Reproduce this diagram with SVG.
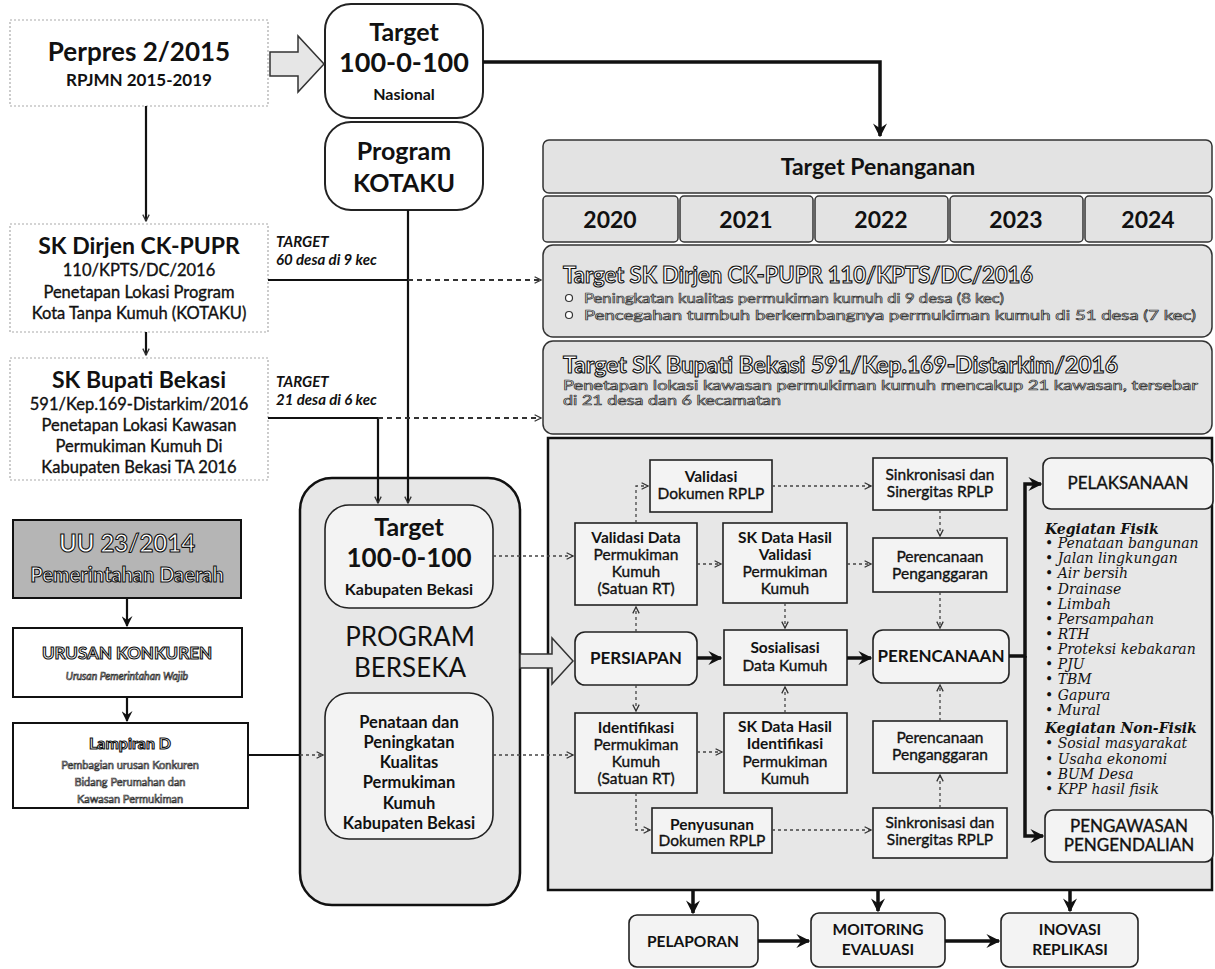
<svg xmlns="http://www.w3.org/2000/svg" width="1215" height="969" viewBox="0 0 1215 969">
<defs>
<style>
text{font-family:Lato,"Open Sans","Liberation Sans",sans-serif;fill:#111;text-anchor:middle}
.b{font-weight:700}
.n{font-weight:400;stroke:#111;stroke-width:0.35px}
.l{text-anchor:start}
.bi{font-weight:700;font-style:italic;font-size:15px;text-anchor:start}
.ol{fill:#fff;stroke:#111;stroke-width:1.1px}
.ols{fill:#fff;stroke:#333;stroke-width:0.7px}
.ser{font-family:"DejaVu Serif","Liberation Serif",serif;font-style:italic;font-size:14px;text-anchor:start}
.doc{fill:#fff;stroke:#aaa;stroke-width:1.2;stroke-dasharray:2 2}
.rb{fill:#fff;stroke:#222;stroke-width:2}
.gb{fill:#e3e3e3;stroke:#333;stroke-width:1.5}
.ib{fill:#f3f3f3;stroke:#222;stroke-width:1.6}
.big{fill:#e7e7e7;stroke:#111;stroke-width:2.5}
.thick{fill:none;stroke:#111;stroke-width:3.5}
.med{fill:none;stroke:#111;stroke-width:2.2}
.dot{fill:none;stroke:#444;stroke-width:1.3;stroke-dasharray:3 3}
.dash{fill:none;stroke:#333;stroke-width:2;stroke-dasharray:5 4}
.hol{fill:#e6e6e6;stroke:#333;stroke-width:1.5}
</style>
<marker id="ah" viewBox="0 0 10 10" refX="9" refY="5" markerWidth="14" markerHeight="14" markerUnits="userSpaceOnUse" orient="auto"><path d="M0,0 L10,5 L0,10 L3.5,5 z" fill="#111"/></marker>
<marker id="am" viewBox="0 0 10 10" refX="9" refY="5" markerWidth="11" markerHeight="11" markerUnits="userSpaceOnUse" orient="auto"><path d="M0,0 L10,5 L0,10 L3.5,5 z" fill="#111"/></marker>
<marker id="ds" viewBox="0 0 10 10" refX="9" refY="5" markerWidth="8" markerHeight="8" markerUnits="userSpaceOnUse" orient="auto"><path d="M1,1 L9,5 L1,9" fill="none" stroke="#333" stroke-width="1.6"/></marker>
</defs>
<rect x="0" y="0" width="1215" height="969" fill="#fff"/>

<g id="perpres">
<rect class="doc" x="10" y="20" width="258" height="86"/>
<text class="b" x="139" y="61" font-size="26">Perpres 2/2015</text>
<text class="b" x="139" y="86" font-size="17">RPJMN 2015-2019</text>
</g>
<g id="target-nasional">
<rect class="rb" x="325" y="4" width="158" height="114" rx="26"/>
<text class="b" x="404" y="41" font-size="25">Target</text>
<text class="b" x="404" y="72" font-size="27">100-0-100</text>
<text class="b" x="404" y="100" font-size="16">Nasional</text>
</g>
<g id="program-kotaku">
<rect class="rb" x="325" y="122" width="158" height="88" rx="26"/>
<text class="b" x="404" y="160" font-size="25">Program</text>
<text class="b" x="404" y="192" font-size="25">KOTAKU</text>
</g>
<g id="sk-dirjen">
<rect class="doc" x="10" y="224" width="258" height="108"/>
<text class="b" x="139" y="254" font-size="23">SK Dirjen CK-PUPR</text>
<text class="n" x="139" y="276" font-size="16.5">110/KPTS/DC/2016</text>
<text class="n" x="139" y="298" font-size="16.5">Penetapan Lokasi Program</text>
<text class="n" x="139" y="319" font-size="16.5">Kota Tanpa Kumuh (KOTAKU)</text>
</g>
<g id="sk-bupati">
<rect class="doc" x="10" y="358" width="258" height="122"/>
<text class="b" x="139" y="388" font-size="23">SK Bupati Bekasi</text>
<text class="n" x="139" y="410" font-size="16.5">591/Kep.169-Distarkim/2016</text>
<text class="n" x="139" y="431" font-size="16.5">Penetapan Lokasi Kawasan</text>
<text class="n" x="139" y="452" font-size="16.5">Permukiman Kumuh Di</text>
<text class="n" x="139" y="473" font-size="16.5">Kabupaten Bekasi TA 2016</text>
</g>
<g id="label-target-dirjen">
<text class="bi" x="276" y="247">TARGET</text>
<text class="bi" x="276" y="265">60 desa di 9 kec</text>
</g>
<g id="label-target-bupati">
<text class="bi" x="276" y="387">TARGET</text>
<text class="bi" x="276" y="405">21 desa di 6 kec</text>
</g>

<g id="target-penanganan">
<rect class="gb" x="543" y="140" width="669" height="53" rx="6"/>
<text class="b" x="878" y="175" font-size="23">Target Penanganan</text>
</g>
<g id="years">
<rect class="gb" x="543" y="196" width="135" height="46" rx="4"/>
<rect class="gb" x="680" y="196" width="133" height="46" rx="4"/>
<rect class="gb" x="815" y="196" width="133" height="46" rx="4"/>
<rect class="gb" x="950" y="196" width="133" height="46" rx="4"/>
<rect class="gb" x="1085" y="196" width="127" height="46" rx="4"/>
<text class="b" x="610" y="228" font-size="23">2020</text>
<text class="b" x="746" y="228" font-size="23">2021</text>
<text class="b" x="881" y="228" font-size="23">2022</text>
<text class="b" x="1016" y="228" font-size="23">2023</text>
<text class="b" x="1148" y="228" font-size="23">2024</text>
</g>
<g id="target-sk-dirjen">
<rect class="gb" x="543" y="245" width="669" height="92" rx="10"/>
<text class="b l ol" x="563" y="283" font-size="22" textLength="470" lengthAdjust="spacingAndGlyphs">Target SK Dirjen CK-PUPR 110/KPTS/DC/2016</text>
<circle cx="569" cy="298" r="3.5" fill="#fff" stroke="#333" stroke-width="1.2"/>
<circle cx="569" cy="315" r="3.5" fill="#fff" stroke="#333" stroke-width="1.2"/>
<text class="l ols" x="584" y="303" font-size="13.5" textLength="420" lengthAdjust="spacingAndGlyphs">Peningkatan kualitas permukiman kumuh di 9 desa (8 kec)</text>
<text class="l ols" x="584" y="320" font-size="13.5" textLength="612" lengthAdjust="spacingAndGlyphs">Pencegahan tumbuh berkembangnya permukiman kumuh di 51 desa (7 kec)</text>
</g>
<g id="target-sk-bupati">
<rect class="gb" x="543" y="341" width="669" height="93" rx="10"/>
<text class="b l ol" x="563" y="373" font-size="22" textLength="555" lengthAdjust="spacingAndGlyphs">Target SK Bupati Bekasi 591/Kep.169-Distarkim/2016</text>
<text class="l ols" x="563" y="390" font-size="13.5" textLength="635" lengthAdjust="spacingAndGlyphs">Penetapan lokasi kawasan permukiman kumuh mencakup 21 kawasan, tersebar</text>
<text class="l ols" x="563" y="405" font-size="13.5" textLength="218" lengthAdjust="spacingAndGlyphs">di 21 desa dan 6 kecamatan</text>
</g>

<g id="uu">
<rect x="13" y="520" width="228" height="78" fill="#b5b5b5" stroke="#111" stroke-width="2"/>
<text class="b ol" x="127" y="552" font-size="24">UU 23/2014</text>
<text class="b ol" x="127" y="582" font-size="20">Pemerintahan Daerah</text>
</g>
<g id="urusan-konkuren">
<rect x="13" y="628" width="229" height="69" fill="#fff" stroke="#111" stroke-width="2"/>
<text class="b ol" x="127" y="659" font-size="17">URUSAN KONKUREN</text>
<text class="ols" x="127" y="680" font-size="10.5" font-style="italic">Urusan Pemerintahan Wajib</text>
</g>
<g id="lampiran-d">
<rect x="13" y="723" width="235" height="85" fill="#fff" stroke="#111" stroke-width="2"/>
<text class="b ol" x="130" y="749" font-size="16">Lampiran D</text>
<text class="ols" x="130" y="769" font-size="11">Pembagian urusan Konkuren</text>
<text class="ols" x="130" y="786" font-size="11">Bidang Perumahan dan</text>
<text class="ols" x="130" y="803" font-size="11">Kawasan Permukiman</text>
</g>

<g id="program-berseka">
<rect class="big" x="300" y="478" width="220" height="427" rx="32"/>
<text x="410" y="646" font-size="26">PROGRAM</text>
<text x="410" y="677" font-size="26">BERSEKA</text>
</g>
<g id="target-kabupaten">
<rect class="ib" x="325" y="505" width="168" height="103" rx="24"/>
<text class="b" x="409" y="536" font-size="25">Target</text>
<text class="b" x="409" y="567" font-size="26">100-0-100</text>
<text class="b" x="409" y="595" font-size="16">Kabupaten Bekasi</text>
</g>
<g id="penataan">
<rect class="ib" x="325" y="693" width="168" height="146" rx="24"/>
<text class="b" x="409" y="728" font-size="16.5">Penataan dan</text>
<text class="b" x="409" y="748" font-size="16.5">Peningkatan</text>
<text class="b" x="409" y="768" font-size="16.5">Kualitas</text>
<text class="b" x="409" y="788" font-size="16.5">Permukiman</text>
<text class="b" x="409" y="809" font-size="16.5">Kumuh</text>
<text class="b" x="409" y="829" font-size="16.5">Kabupaten Bekasi</text>
</g>

<g id="proses">
<rect class="big" x="548" y="438" width="664" height="452"/>
</g>
<g id="validasi-dokumen">
<rect class="ib" x="650" y="460" width="122" height="52"/>
<text class="b" x="711" y="482" font-size="15.5">Validasi</text>
<text class="n" x="711" y="499" font-size="15.5">Dokumen RPLP</text>
</g>
<g id="validasi-data">
<rect class="ib" x="575" y="523" width="122" height="82"/>
<text class="b" x="636" y="543" font-size="15.5">Validasi Data</text>
<text class="n" x="636" y="560" font-size="15.5">Permukiman</text>
<text class="n" x="636" y="577" font-size="15.5">Kumuh</text>
<text class="n" x="636" y="594" font-size="15.5">(Satuan RT)</text>
</g>
<g id="sk-validasi">
<rect class="ib" x="723" y="523" width="124" height="80"/>
<text class="b" x="785" y="543" font-size="15.5">SK Data Hasil</text>
<text class="b" x="785" y="560" font-size="15.5">Validasi</text>
<text class="n" x="785" y="577" font-size="15.5">Permukiman</text>
<text class="n" x="785" y="594" font-size="15.5">Kumuh</text>
</g>
<g id="persiapan">
<rect class="ib" x="575" y="632" width="122" height="53" rx="10"/>
<text class="b" x="636" y="664" font-size="17">PERSIAPAN</text>
</g>
<g id="sosialisasi">
<rect class="ib" x="724" y="630" width="123" height="55"/>
<text class="b" x="785" y="653" font-size="15.5">Sosialisasi</text>
<text class="n" x="785" y="671" font-size="15.5">Data Kumuh</text>
</g>
<g id="identifikasi">
<rect class="ib" x="575" y="713" width="122" height="80"/>
<text class="b" x="636" y="733" font-size="15.5">Identifikasi</text>
<text class="n" x="636" y="750" font-size="15.5">Permukiman</text>
<text class="n" x="636" y="767" font-size="15.5">Kumuh</text>
<text class="n" x="636" y="784" font-size="15.5">(Satuan RT)</text>
</g>
<g id="sk-identifikasi">
<rect class="ib" x="724" y="713" width="123" height="80"/>
<text class="b" x="785" y="732" font-size="15.5">SK Data Hasil</text>
<text class="b" x="785" y="749" font-size="15.5">Identifikasi</text>
<text class="n" x="785" y="767" font-size="15.5">Permukiman</text>
<text class="n" x="785" y="784" font-size="15.5">Kumuh</text>
</g>
<g id="penyusunan">
<rect class="ib" x="652" y="808" width="120" height="45"/>
<text class="b" x="712" y="830" font-size="15.5">Penyusunan</text>
<text class="n" x="712" y="846" font-size="15.5">Dokumen RPLP</text>
</g>
<g id="sinkronisasi-1">
<rect class="ib" x="873" y="458" width="134" height="52"/>
<text class="n" x="940" y="480" font-size="15.5">Sinkronisasi dan</text>
<text class="n" x="940" y="497" font-size="15.5">Sinergitas RPLP</text>
</g>
<g id="penganggaran-1">
<rect class="ib" x="873" y="538" width="134" height="54"/>
<text class="n" x="940" y="562" font-size="15.5">Perencanaan</text>
<text class="n" x="940" y="579" font-size="15.5">Penganggaran</text>
</g>
<g id="perencanaan">
<rect class="ib" x="873" y="630" width="136" height="53" rx="10"/>
<text class="b" x="941" y="662" font-size="17">PERENCANAAN</text>
</g>
<g id="penganggaran-2">
<rect class="ib" x="873" y="721" width="134" height="52"/>
<text class="n" x="940" y="743" font-size="15.5">Perencanaan</text>
<text class="n" x="940" y="760" font-size="15.5">Penganggaran</text>
</g>
<g id="sinkronisasi-2">
<rect class="ib" x="873" y="808" width="134" height="50"/>
<text class="n" x="940" y="828" font-size="15.5">Sinkronisasi dan</text>
<text class="n" x="940" y="845" font-size="15.5">Sinergitas RPLP</text>
</g>
<g id="pelaksanaan">
<rect class="ib" x="1043" y="458" width="170" height="51" rx="8"/>
<text class="n" x="1128" y="489" font-size="17">PELAKSANAAN</text>
</g>
<g id="kegiatan">
<text class="ser" x="1045" y="534" font-weight="700">Kegiatan Fisik</text>
<text class="ser" x="1045" y="548">• Penataan bangunan</text>
<text class="ser" x="1045" y="563">• Jalan lingkungan</text>
<text class="ser" x="1045" y="578">• Air bersih</text>
<text class="ser" x="1045" y="594">• Drainase</text>
<text class="ser" x="1045" y="609">• Limbah</text>
<text class="ser" x="1045" y="624">• Persampahan</text>
<text class="ser" x="1045" y="639">• RTH</text>
<text class="ser" x="1045" y="654">• Proteksi kebakaran</text>
<text class="ser" x="1045" y="669">• PJU</text>
<text class="ser" x="1045" y="684">• TBM</text>
<text class="ser" x="1045" y="700">• Gapura</text>
<text class="ser" x="1045" y="715">• Mural</text>
<text class="ser" x="1045" y="733" font-weight="700">Kegiatan Non-Fisik</text>
<text class="ser" x="1045" y="748">• Sosial masyarakat</text>
<text class="ser" x="1045" y="764">• Usaha ekonomi</text>
<text class="ser" x="1045" y="779">• BUM Desa</text>
<text class="ser" x="1045" y="794">• KPP hasil fisik</text>
</g>
<g id="pengawasan">
<rect class="ib" x="1045" y="810" width="168" height="52" rx="8"/>
<text class="n" x="1129" y="832" font-size="17">PENGAWASAN</text>
<text class="n" x="1129" y="851" font-size="17">PENGENDALIAN</text>
</g>
<g id="pelaporan">
<rect class="ib" x="629" y="915" width="129" height="52" rx="8"/>
<text class="b" x="693" y="947" font-size="15.5">PELAPORAN</text>
</g>
<g id="monitoring">
<rect class="ib" x="811" y="913" width="134" height="54" rx="8"/>
<text class="b" x="878" y="935" font-size="15.5">MOITORING</text>
<text class="b" x="878" y="955" font-size="15.5">EVALUASI</text>
</g>
<g id="inovasi">
<rect class="ib" x="1001" y="913" width="137" height="54" rx="8"/>
<text class="b" x="1070" y="935" font-size="15.5">INOVASI</text>
<text class="b" x="1070" y="955" font-size="15.5">REPLIKASI</text>
</g>

<g id="connectors">
<polygon class="hol" points="270,52 298,52 298,36 324,64 298,92 298,76 270,76"/>
<polygon class="hol" points="520,654 552,654 552,638 573,661 552,684 552,668 520,668"/>
<path class="thick" d="M483,62 H880 V136" marker-end="url(#ah)"/>
<path class="med" d="M146,106 V221" marker-end="url(#ds)"/>
<path class="med" d="M146,332 V355" marker-end="url(#ds)"/>
<path class="med" d="M268,280 H408"/>
<path class="med" d="M408,210 V503" marker-end="url(#ds)"/>
<path class="med" d="M268,418 H378 V503" marker-end="url(#ds)"/>
<path class="dash" d="M408,280 H541" marker-end="url(#ds)"/>
<path class="dash" d="M378,418 H541" marker-end="url(#ds)"/>
<path class="med" d="M127,598 V626" marker-end="url(#am)"/>
<path class="med" d="M127,697 V721" marker-end="url(#am)"/>
<path class="med" d="M248,755 H300"/>
<path class="dot" d="M300,755 H323" marker-end="url(#ds)"/>
<path class="dot" d="M493,556 H573" marker-end="url(#ds)"/>
<path class="dot" d="M493,755 H573" marker-end="url(#ds)"/>
<path class="dot" d="M636,523 V486 H648" marker-end="url(#ds)"/>
<path class="dot" d="M772,486 H871" marker-end="url(#ds)"/>
<path class="dot" d="M697,564 H721" marker-end="url(#ds)"/>
<path class="dot" d="M847,564 H871" marker-end="url(#ds)"/>
<path class="dot" d="M785,603 V628" marker-end="url(#ds)"/>
<path class="dot" d="M636,632 V607" marker-end="url(#ds)"/>
<path class="dot" d="M636,685 V711" marker-end="url(#ds)"/>
<path class="dot" d="M697,752 H722" marker-end="url(#ds)"/>
<path class="dot" d="M785,713 V687" marker-end="url(#ds)"/>
<path class="dot" d="M636,793 V830 H650" marker-end="url(#ds)"/>
<path class="dot" d="M772,830 H871" marker-end="url(#ds)"/>
<path class="dot" d="M940,510 V536" marker-end="url(#ds)"/>
<path class="dot" d="M940,592 V628" marker-end="url(#ds)"/>
<path class="dot" d="M940,721 V685" marker-end="url(#ds)"/>
<path class="dot" d="M940,808 V775" marker-end="url(#ds)"/>
<path class="thick" d="M697,658 H721" marker-end="url(#ah)"/>
<path class="thick" d="M847,658 H871" marker-end="url(#ah)"/>
<path class="thick" d="M1009,656 H1025 V484 H1041" marker-end="url(#ah)"/>
<path class="thick" d="M1025,656 V836 H1043" marker-end="url(#ah)"/>
<path class="thick" d="M693,890 V913" marker-end="url(#ah)"/>
<path class="thick" d="M878,890 V911" marker-end="url(#ah)"/>
<path class="thick" d="M1070,890 V911" marker-end="url(#ah)"/>
<path class="thick" d="M758,941 H809" marker-end="url(#ah)"/>
<path class="thick" d="M945,941 H999" marker-end="url(#ah)"/>
</g>
</svg>
